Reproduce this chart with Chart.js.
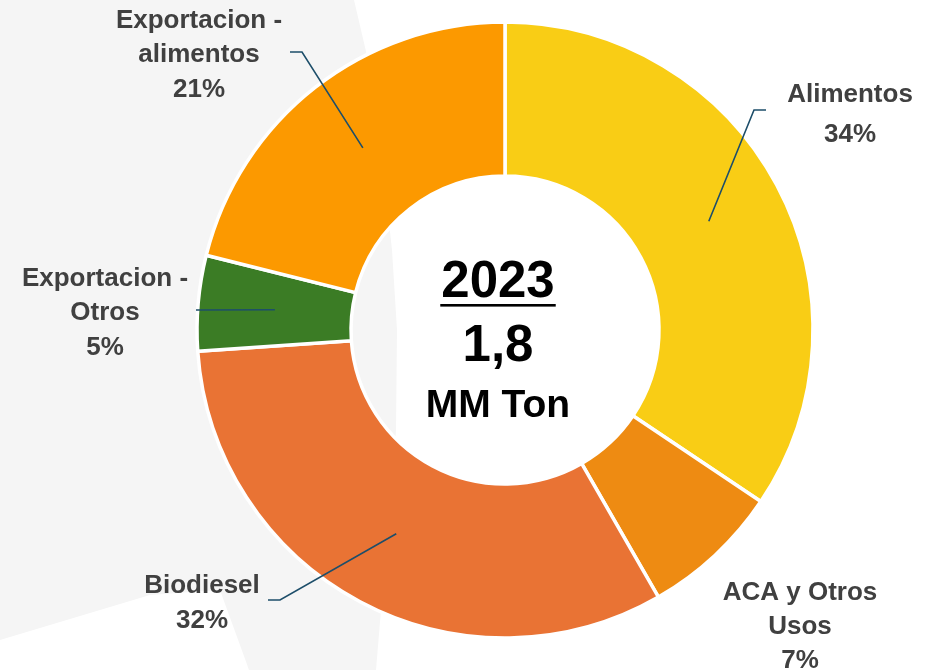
<!DOCTYPE html>
<html>
<head>
<meta charset="utf-8">
<script src="https://cdn.jsdelivr.net/npm/chart.js@4.4.1/dist/chart.umd.min.js"></script>
<style>
  html, body { margin: 0; padding: 0; background: #fff; }
  canvas { display: block; }
</style>
</head>
<body>
<canvas id="uses" width="952" height="670"></canvas>
<script>
// destinos 2023 (% del total, 1,8 MM Ton)
const categories = [['Alimentos'], ['ACA y Otros', 'Usos'], ['Biodiesel'], ['Exportacion -', 'Otros'], ['Exportacion -', 'alimentos']];
const shares = [34.4, 7.3, 32.2, 5.0, 21.1];
const sliceColors = ['#F9CD15', '#EE8B12', '#E97334', '#3B7C25', '#FC9900'];
const centerLines = ['2023', '1,8', 'MM Ton'];

// where each label sits (text centre x, baselines) and its leader line bends
const labelLayout = [
  { x: 850, ys: [102, 142], path: [[754, 110], [766, 110]] },
  { x: 800, ys: [600, 634, 668], path: null },
  { x: 202, ys: [593, 628], path: [[280, 600], [268, 600]] },
  { x: 105, ys: [286, 320, 355], path: [[196, 310]] },
  { x: 199, ys: [28, 62, 97], path: [[302, 52], [290, 52]] }
];

const backdrop = {
  id: 'backdrop',
  beforeDraw(chart) {
    const ctx = chart.ctx;
    ctx.save();
    ctx.fillStyle = '#F5F5F5';
    ctx.beginPath();
    ctx.moveTo(0, 0);
    ctx.lineTo(354, 0);
    ctx.lineTo(368, 60);
    ctx.lineTo(381, 150);
    ctx.lineTo(392, 250);
    ctx.lineTo(397, 330);
    ctx.lineTo(396, 430);
    ctx.lineTo(389, 530);
    ctx.lineTo(381, 610);
    ctx.lineTo(376, 670);
    ctx.lineTo(249, 670);
    ctx.lineTo(220, 590);
    ctx.lineTo(150, 595);
    ctx.lineTo(0, 640);
    ctx.closePath();
    ctx.fill();
    ctx.restore();
  }
};

const sliceLabels = {
  id: 'sliceLabels',
  afterDatasetsDraw(chart) {
    const ctx = chart.ctx;
    const arcs = chart.getDatasetMeta(0).data;
    ctx.save();
    ctx.strokeStyle = '#1D4E6A';
    ctx.lineWidth = 1.6;
    arcs.forEach((arc, i) => {
      const lay = labelLayout[i];
      if (lay.path) {
        const p = arc.tooltipPosition();
        ctx.beginPath();
        ctx.moveTo(p.x, p.y);
        lay.path.forEach(pt => ctx.lineTo(pt[0], pt[1]));
        ctx.stroke();
      }
      const lines = categories[i].concat([Math.round(shares[i]) + '%']);
      ctx.fillStyle = '#404040';
      ctx.font = 'bold 26px "Liberation Sans", Arial, sans-serif';
      ctx.textAlign = 'center';
      ctx.textBaseline = 'alphabetic';
      lines.forEach((t, k) => ctx.fillText(t, lay.x, lay.ys[k]));
    });

    // centre text
    const a = arcs[0];
    const cx = a.x - 7;
    ctx.fillStyle = '#000';
    ctx.textAlign = 'center';
    ctx.font = 'bold 51px "Liberation Sans", Arial, sans-serif';
    ctx.fillText(centerLines[0], cx, a.y - 33);
    const w = ctx.measureText(centerLines[0]).width;
    ctx.fillRect(cx - w / 2 - 1, a.y - 26, w + 2, 2.6);
    ctx.fillText(centerLines[1], cx, a.y + 31);
    ctx.font = 'bold 39px "Liberation Sans", Arial, sans-serif';
    ctx.fillText(centerLines[2], cx, a.y + 87);
    ctx.restore();
  }
};

new Chart(document.getElementById('uses'), {
  type: 'doughnut',
  data: {
    labels: categories.map(c => c.join(' ')),
    datasets: [{
      data: shares,
      backgroundColor: sliceColors,
      borderColor: '#FFFFFF',
      borderWidth: 3.5,
      hoverBorderWidth: 3.5
    }]
  },
  options: {
    responsive: false,
    animation: false,
    events: [],
    cutout: '50%',
    layout: { padding: { top: 20.25, bottom: 30.25, left: 58, right: 0 } },
    plugins: {
      legend: { display: false },
      tooltip: { enabled: false }
    }
  },
  plugins: [backdrop, sliceLabels]
});
</script>
</body>
</html>
